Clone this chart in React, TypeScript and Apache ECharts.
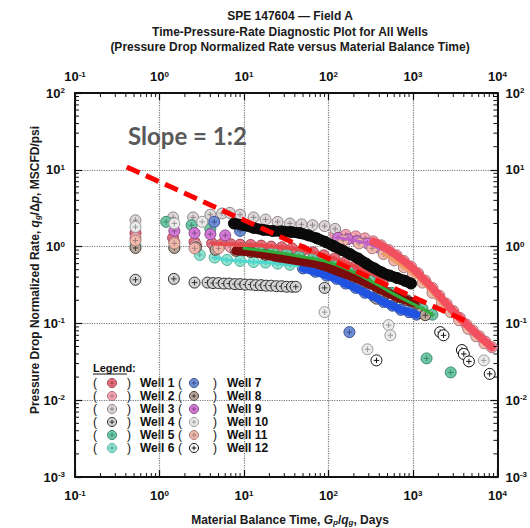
import React, { useEffect, useRef } from "react";
import * as echarts from "echarts";

// ---------- text ----------
const titleLines = [
  "SPE 147604 — Field A",
  "Time-Pressure-Rate Diagnostic Plot for All Wells",
  "(Pressure Drop Normalized Rate versus Material Balance Time)",
];
const xTitle = "Material Balance Time, {i|G}{s|p}/{i|q}{s|g}, Days";
const yTitle = "Pressure Drop Normalized Rate, {i|q}{s|g}/Δ{i|p}, MSCFD/psi";
const slopeLabel = "Slope = 1:2";
const legendTitle = "Legend:";

// ---------- axes ----------
const xMin = 0.1;
const xMax = 10000;
const yMin = 0.001;
const yMax = 100;
const xDecadeExps = [-1, 0, 1, 2, 3];
const yDecadeExps = [-3, -2, -1, 0, 1];
const minorMultipliers = [2, 3, 4, 5, 6, 7, 8, 9];

// ---------- slope 1:2 reference line ----------
const slopeT = [0.41, 4600];
const slopeQ = [10.9, 0.103];

// ---------- wells ----------
const wellNames = ["Well 1", "Well 2", "Well 3", "Well 4", "Well 5", "Well 6", "Well 7", "Well 8", "Well 9", "Well 10", "Well 11", "Well 12"];

const w1T = [0.52, 1.45, 2.6, 4.2, 5.5, 7, 9, 12, 16, 21, 28, 37, 50, 66, 88, 118, 155, 205, 270, 350, 450];
const w1Q = [1.5, 1.3, 1.15, 1.1, 1.08, 1.07, 1.06, 1.05, 1.03, 1.0, 0.98, 0.95, 0.9, 0.84, 0.77, 0.7, 0.62, 0.55, 0.48, 0.43, 0.38];

const w2T = [0.52, 1.5, 2.7, 4.5, 7, 11, 120, 160, 210, 270, 340, 420, 520, 640, 780, 950, 1150, 1400, 1700, 2050, 2500, 3000, 3600, 4300, 5100, 6100, 7200, 8600];
const w2Q = [1.3, 1.15, 1.05, 1.0, 0.98, 0.96, 1.45, 1.42, 1.36, 1.28, 1.17, 1.04, 0.9, 0.77, 0.65, 0.55, 0.45, 0.36, 0.29, 0.23, 0.18, 0.145, 0.118, 0.097, 0.081, 0.068, 0.058, 0.049];

const w3T = [0.52, 1.45, 2.5, 4, 5.5, 6.8, 9, 13, 18, 25, 35, 48, 65, 90, 120];
const w3Q = [2.2, 2.4, 2.4, 2.6, 2.7, 2.75, 2.6, 2.4, 2.25, 2.1, 2.0, 1.95, 1.9, 1.85, 1.7];

const w4T = [0.52, 1.48, 2.6, 3.7, 4.3, 5, 5.8, 6.7, 7.8, 9, 10.4, 12, 13.8, 15.9, 18.3, 21, 24.2, 27.9, 32, 37, 41, 90];
const w4Q = [0.37, 0.38, 0.34, 0.34, 0.335, 0.335, 0.33, 0.33, 0.325, 0.325, 0.32, 0.32, 0.315, 0.315, 0.31, 0.31, 0.305, 0.305, 0.3, 0.3, 0.3, 0.29];

const w5T = [1.2, 2.4, 4, 10, 15, 22, 32, 45, 65, 90, 125, 170, 230, 310, 420, 560, 750, 1000, 1300, 1700, 1450, 2800];
const w5Q = [2.1, 1.9, 1.7, 0.95, 0.9, 0.85, 0.8, 0.75, 0.7, 0.65, 0.58, 0.5, 0.43, 0.36, 0.3, 0.25, 0.21, 0.18, 0.155, 0.13, 0.035, 0.023];

const w6T = [0.52, 1.5, 3, 4.5, 6.3, 9, 13, 18, 25, 35, 50, 70, 100];
const w6Q = [1.05, 0.98, 0.78, 0.72, 0.67, 0.65, 0.63, 0.62, 0.6, 0.58, 0.55, 0.52, 0.48];

const w7T = [4.45, 9, 50, 70, 95, 125, 160, 210, 270, 350, 450, 570, 720, 900, 1100, 177];
const w7Q = [2.1, 1.6, 0.52, 0.47, 0.42, 0.38, 0.33, 0.29, 0.25, 0.22, 0.19, 0.17, 0.15, 0.14, 0.13, 0.077];

const w8T = [0.52, 1.5, 2.7, 4.6, 8, 12, 18, 25, 35, 50, 70, 100, 140, 200, 280, 380, 500, 650, 850, 1050, 370, 1250, 1400];
const w8Q = [0.96, 0.96, 0.98, 0.91, 0.88, 0.85, 0.78, 0.72, 0.68, 0.64, 0.6, 0.53, 0.46, 0.4, 0.34, 0.29, 0.25, 0.22, 0.2, 0.185, 0.21, 0.136, 0.128];

const w9T = [1.5, 2.6, 4, 6, 130, 170, 220, 290, 380, 500];
const w9Q = [1.6, 1.5, 1.45, 1.4, 1.3, 1.25, 1.18, 1.1, 0.98, 0.86];

const w10T = [0.52, 1.5, 3.2, 90, 515, 540, 290, 6900];
const w10Q = [1.8, 2.0, 2.1, 0.14, 0.095, 0.07, 0.046, 0.033];

const w11T = [0.52, 1.5, 2.6, 5, 8, 150, 230, 330, 450, 600, 780, 1000, 1300, 1700, 2200, 2800, 3500, 4500, 5600, 7000];
const w11Q = [1.2, 1.1, 0.95, 0.95, 0.93, 1.2, 1.1, 0.95, 0.8, 0.66, 0.54, 0.44, 0.34, 0.25, 0.18, 0.14, 0.11, 0.085, 0.068, 0.055];

const w12T = [7.6, 10, 13, 17, 22, 28, 36, 46, 58, 73, 92, 115, 145, 180, 225, 280, 350, 430, 530, 650, 800, 950, 370, 2100, 2300, 3800, 4000, 4600, 8100];
const w12Q = [2.0, 1.9, 1.75, 1.65, 1.6, 1.58, 1.55, 1.5, 1.4, 1.28, 1.15, 1.02, 0.9, 0.8, 0.7, 0.6, 0.52, 0.46, 0.42, 0.39, 0.36, 0.33, 0.033, 0.077, 0.07, 0.045, 0.04, 0.032, 0.022];

const wellTimes = [w1T, w2T, w3T, w4T, w5T, w6T, w7T, w8T, w9T, w10T, w11T, w12T];
const wellRates = [w1Q, w2Q, w3Q, w4Q, w5Q, w6Q, w7Q, w8Q, w9Q, w10Q, w11Q, w12Q];

// ---------- styles ----------
type WellStyle = { fill: string; stroke: string; band: number[] | null; bandColor?: string; bandWidth?: number };
const wellStyles: WellStyle[] = [
  { fill: "#e8707e", stroke: "#a04450", band: [3, 21], bandColor: "#e5484d", bandWidth: 4 },
  { fill: "#f4a6b4", stroke: "#b0707c", band: [10, 28], bandColor: "#f2505e", bandWidth: 8 },
  { fill: "#ddd6d8", stroke: "#8c8688", band: null },
  { fill: "#d4d4d4", stroke: "#333333", band: null },
  { fill: "#6cc6a4", stroke: "#3f8a70", band: [3, 20], bandColor: "#2fae3c", bandWidth: 3 },
  { fill: "#8ee6d2", stroke: "#58a898", band: [3, 13], bandColor: "#4fd8d0", bandWidth: 3 },
  { fill: "#6f8fd6", stroke: "#3a4f8e", band: [2, 15], bandColor: "#1f52e0", bandWidth: 8 },
  { fill: "#b8a89c", stroke: "#4a3a34", band: [4, 20], bandColor: "#7a0c0c", bandWidth: 9 },
  { fill: "#d27ad6", stroke: "#8a4a8e", band: [4, 10], bandColor: "#c060c8", bandWidth: 3 },
  { fill: "#ebebeb", stroke: "#9a9a9a", band: null },
  { fill: "#f0b8a8", stroke: "#a87c80", band: [8, 20], bandColor: "#f29a60", bandWidth: 3 },
  { fill: "#ffffff", stroke: "#111111", band: [0, 22], bandColor: "#0a0a0a", bandWidth: 11 },
];
const bandOrder = [5, 6, 7, 4, 0, 8, 10, 11, 1];

const FONT = "'Liberation Sans Narrow', 'Liberation Sans', Arial, sans-serif";
const MARK = "path://M0,-10A10,10,0,1,1,0,10A10,10,0,1,1,0,-10ZM-5,0L5,0M0,-5L0,5";
const GRID = { left: 75, right: 24, top: 93, bottom: 51 };

function expLabel(v: number) {
  const e = Math.round(Math.log10(v));
  return `{a|10}{b|${e}}`;
}
const labelRich = {
  a: { fontSize: 13, fontWeight: "bold", fontFamily: FONT, color: "#111" },
  b: { fontSize: 8, fontWeight: "bold", fontFamily: FONT, color: "#111", verticalAlign: "top" },
};

function axisBase(min: number, max: number, position: string, margin: number, grid: boolean) {
  return {
    type: "log",
    logBase: 10,
    min,
    max,
    position,
    axisLine: { show: true, onZero: false, lineStyle: { color: "#111", width: 2 } },
    axisTick: { show: true, inside: true, length: 7, lineStyle: { color: "#111", width: 1.2 } },
    axisLabel: { show: true, formatter: expLabel, rich: labelRich, margin, showMinLabel: true, showMaxLabel: true },
    splitLine: grid ? { show: true, lineStyle: { color: "#7a7a7a", type: "dotted", width: 1.2 } } : { show: false },
  };
}

const xMinor: number[] = [];
xDecadeExps.forEach((e) => minorMultipliers.forEach((m) => xMinor.push(m * Math.pow(10, e))));
const yMinor: number[] = [];
yDecadeExps.forEach((e) => minorMultipliers.forEach((m) => yMinor.push(m * Math.pow(10, e))));

function buildOption() {
  const series: any[] = [];
  wellNames.forEach((name, wi) => {
    const st = wellStyles[wi];
    series.push({
      type: "scatter",
      name,
      data: wellTimes[wi].map((x, i) => [x, wellRates[wi][i]]),
      symbol: MARK,
      symbolSize: 11,
      itemStyle: { color: st.fill, borderColor: st.stroke, borderWidth: 1, opacity: 1 },
      z: 3,
    });
  });
  bandOrder.forEach((wi) => {
    const st = wellStyles[wi];
    if (!st.band) return;
    const [s, e] = st.band;
    const t = wellTimes[wi];
    const q = wellRates[wi];
    const data = t.slice(s, e).map((x, i) => [x, q[s + i]]);
    series.push({
      type: "line",
      name: wellNames[wi] + " band",
      data,
      showSymbol: false,
      symbol: "none",
      silent: true,
      lineStyle: { color: st.bandColor, width: st.bandWidth, cap: "round", join: "round" },
      z: 4,
    });
  });
  series.push({
    type: "line",
    name: "slope",
    data: slopeT.map((x, i) => [x, slopeQ[i]]),
    showSymbol: false,
    symbol: "none",
    silent: true,
    lineStyle: { color: "#ff0000", width: 5, type: [14, 7], cap: "butt" },
    z: 6,
  });
  series.push({
    type: "custom",
    name: "xminor",
    silent: true,
    z: 7,
    data: xMinor.map((v) => [v, 1]),
    renderItem: (params: any, api: any) => {
      const cs = params.coordSys;
      const x = api.coord([api.value(0), 1])[0];
      const yb = cs.y + cs.height;
      const yt = cs.y;
      return {
        type: "group",
        children: [
          { type: "line", shape: { x1: x, y1: yb, x2: x, y2: yb - 4 }, style: { stroke: "#111", lineWidth: 1 } },
          { type: "line", shape: { x1: x, y1: yt, x2: x, y2: yt + 4 }, style: { stroke: "#111", lineWidth: 1 } },
        ],
      };
    },
  });
  series.push({
    type: "custom",
    name: "yminor",
    silent: true,
    z: 7,
    data: yMinor.map((v) => [1, v]),
    renderItem: (params: any, api: any) => {
      const cs = params.coordSys;
      const y = api.coord([1, api.value(1)])[1];
      const xl = cs.x;
      const xr = cs.x + cs.width;
      return {
        type: "group",
        children: [
          { type: "line", shape: { x1: xl, y1: y, x2: xl + 4, y2: y }, style: { stroke: "#111", lineWidth: 1 } },
          { type: "line", shape: { x1: xr, y1: y, x2: xr - 4, y2: y }, style: { stroke: "#111", lineWidth: 1 } },
        ],
      };
    },
  });

  const graphics: any[] = [];
  const titleY = [16, 31.5, 47];
  titleLines.forEach((t, i) =>
    graphics.push({
      type: "text",
      x: 290,
      y: titleY[i],
      style: { text: t, fontSize: 12, fontWeight: "bold", fontFamily: FONT, fill: "#1a1a1a", align: "center", verticalAlign: "middle" },
    })
  );
  graphics.push({
    type: "text",
    x: 128,
    y: 135,
    z: 20,
    style: { text: slopeLabel, fontSize: 24, fontWeight: "bold", fontFamily: "Lato, 'Open Sans', sans-serif", fill: "#595959", align: "left", verticalAlign: "middle" },
  });
  const subRich = {
    i: { fontSize: 12, fontWeight: "bold", fontStyle: "italic", fontFamily: FONT, fill: "#1a1a1a" },
    s: { fontSize: 8, fontWeight: "bold", fontStyle: "italic", fontFamily: FONT, fill: "#1a1a1a", verticalAlign: "bottom" },
  };
  graphics.push({
    type: "text",
    x: 290,
    y: 520,
    style: { text: xTitle, fontSize: 12, fontWeight: "bold", fontFamily: FONT, fill: "#1a1a1a", align: "center", verticalAlign: "middle", rich: subRich },
  });
  graphics.push({
    type: "text",
    x: 35,
    y: 270,
    rotation: Math.PI / 2,
    style: { text: yTitle, fontSize: 12, fontWeight: "bold", fontFamily: FONT, fill: "#1a1a1a", align: "center", verticalAlign: "middle", rich: subRich },
  });

  // legend block
  graphics.push({
    type: "text",
    x: 93,
    y: 368,
    z: 20,
    style: { text: legendTitle, fontSize: 11, fontWeight: "bold", fontFamily: FONT, fill: "#111", align: "left", verticalAlign: "middle" },
  });
  graphics.push({ type: "line", z: 20, shape: { x1: 93, y1: 374, x2: 127, y2: 374 }, style: { stroke: "#111", lineWidth: 1 } });
  const rowY = [383, 396, 409, 422, 435, 448];
  const cols = [
    { open: 95, mark: 112, close: 129, name: 140 },
    { open: 180, mark: 194, close: 215, name: 227 },
  ];
  wellNames.forEach((name, wi) => {
    const c = cols[Math.floor(wi / 6)];
    const y = rowY[wi % 6];
    const st = wellStyles[wi];
    graphics.push({
      type: "group",
      z: 20,
      children: [
        { type: "text", x: c.open, y, style: { text: "(", fontSize: 12, fontFamily: FONT, fill: "#111", align: "center", verticalAlign: "middle" } },
        { type: "text", x: c.close, y, style: { text: ")", fontSize: 12, fontFamily: FONT, fill: "#111", align: "center", verticalAlign: "middle" } },
        { type: "circle", shape: { cx: c.mark, cy: y, r: 4.5 }, style: { fill: st.fill, stroke: st.stroke, lineWidth: 1 } },
        { type: "line", shape: { x1: c.mark - 2.2, y1: y, x2: c.mark + 2.2, y2: y }, style: { stroke: st.stroke, lineWidth: 1 } },
        { type: "line", shape: { x1: c.mark, y1: y - 2.2, x2: c.mark, y2: y + 2.2 }, style: { stroke: st.stroke, lineWidth: 1 } },
        { type: "text", x: c.name, y, style: { text: name, fontSize: 12, fontWeight: "bold", fontFamily: FONT, fill: "#111", align: "left", verticalAlign: "middle" } },
      ],
    });
  });

  return {
    animation: false,
    backgroundColor: "#ffffff",
    grid: { ...GRID, containLabel: false },
    xAxis: [axisBase(xMin, xMax, "bottom", 12, true), axisBase(xMin, xMax, "top", 10, false)],
    yAxis: [axisBase(yMin, yMax, "left", 10, true), axisBase(yMin, yMax, "right", 8, false)],
    series,
    graphic: graphics,
  };
}

export default function App() {
  const ref = useRef<HTMLDivElement>(null);
  useEffect(() => {
    if (!ref.current) return;
    const chart = echarts.init(ref.current, undefined, { renderer: "svg" });
    chart.setOption(buildOption() as any);
    return () => chart.dispose();
  }, []);
  return <div ref={ref} style={{ position: "fixed", left: 0, top: 0, width: 530, height: 528, background: "#fff" }} />;
}
